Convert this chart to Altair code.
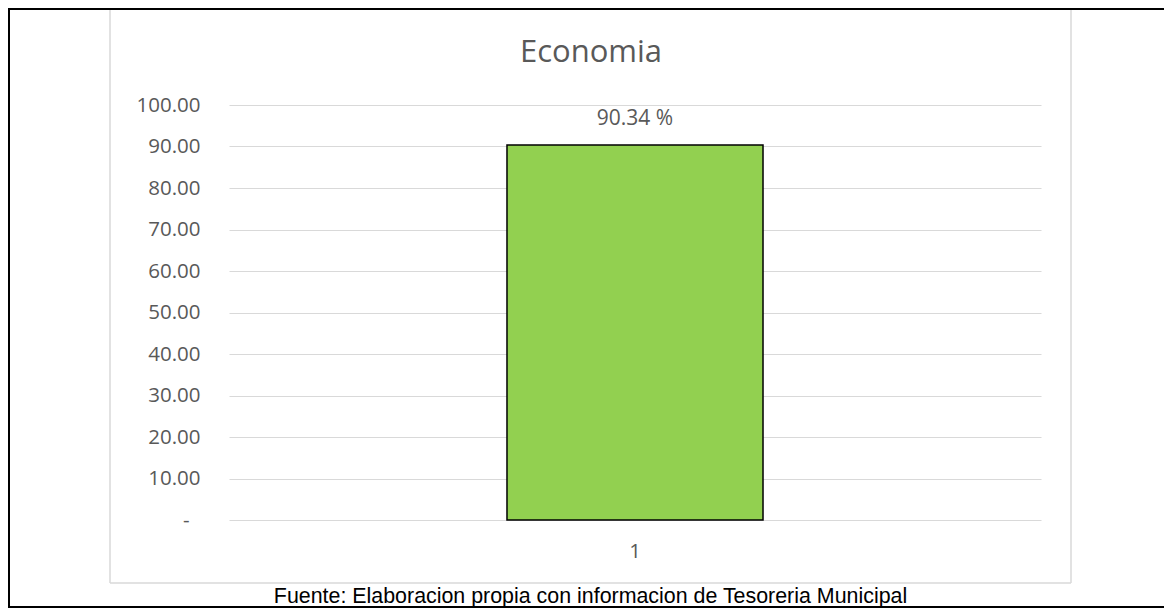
import altair as alt
import pandas as pd

# ---- data ----
categories = ["1"]
values = [90.34]
y_ticks = [0, 10, 20, 30, 40, 50, 60, 70, 80, 90, 100]
title_text = "Economia"
source_text = "Fuente: Elaboracion propia con informacion de Tesoreria Municipal"

df = pd.DataFrame({"cat": categories, "value": values})

GRAY_TEXT = "#595959"
GRID = "#D9D9D9"
FONT = "Open Sans"

base = alt.Chart(df)

x_enc = alt.X(
    "cat:N",
    scale=alt.Scale(paddingInner=0.079, paddingOuter=1),
    axis=alt.Axis(
        title=source_text,
        labelAngle=0,
        domain=False,
        ticks=False,
        tickSize=0,
        labelPadding=21,
        labelFont=FONT,
        labelFontSize=20.5,
        labelColor=GRAY_TEXT,
        titleFont="Liberation Sans",
        titleFontSize=21.4,
        titleFontWeight="normal",
        titleColor="#000000",
        titleX=361,
        titleY=82,
        titleAlign="center",
        titleBaseline="alphabetic",
    ),
)

y_enc = alt.Y(
    "value:Q",
    scale=alt.Scale(domain=[0, 100], nice=False),
    axis=alt.Axis(
        values=y_ticks,
        labelExpr="datum.value == 0 ? '-' : format(datum.value, '.2f')",
        title=None,
        domain=False,
        ticks=False,
        tickSize=0,
        labelPadding={"condition": {"test": "datum.value == 0", "value": 40}, "value": 29},
        grid=True,
        gridColor=GRID,
        gridWidth=1.2,
        labelFont=FONT,
        labelFontSize=20.5,
        labelColor=GRAY_TEXT,
    ),
)

bars = base.mark_bar(fill="#92D050", stroke="#000000", strokeWidth=1.5).encode(
    x=x_enc, y=y_enc
)

labels = base.transform_calculate(
    label="format(datum.value, '.2f') + ' %'"
).mark_text(
    baseline="bottom", dy=-16, font=FONT, fontSize=21, color=GRAY_TEXT
).encode(x=alt.X("cat:N"), y=alt.Y("value:Q"), text="label:N")

title_mark = base.mark_text(
    font=FONT, fontSize=31, color=GRAY_TEXT, align="center", baseline="alphabetic"
).encode(x=alt.value(362), y=alt.value(-43), text=alt.value(title_text))

# decorative frames (outer black frame, inner light chart-area border)
frame_top = base.mark_rule(color="#000000", strokeWidth=2).encode(
    x=alt.value(-221), x2=alt.value(935), y=alt.value(-96)
)
frame_left = base.mark_rule(color="#000000", strokeWidth=2).encode(
    x=alt.value(-220), y=alt.value(-97), y2=alt.value(503)
)
frame_bottom = base.mark_rule(color="#000000", strokeWidth=2).encode(
    x=alt.value(-221), x2=alt.value(935), y=alt.value(502)
)
inner_left = base.mark_rule(color=GRID, strokeWidth=1.5).encode(
    x=alt.value(-119), y=alt.value(-95), y2=alt.value(478)
)
inner_right = base.mark_rule(color=GRID, strokeWidth=1.5).encode(
    x=alt.value(842), y=alt.value(-95), y2=alt.value(478)
)
inner_bottom = base.mark_rule(color=GRID, strokeWidth=1.5).encode(
    x=alt.value(-119), x2=alt.value(842), y=alt.value(478)
)

chart = (
    alt.layer(
        inner_left, inner_right, inner_bottom,
        bars, labels, title_mark,
        frame_top, frame_left, frame_bottom,
    )
    .properties(
        width=812,
        height=415,
        autosize=alt.AutoSizeParams(type="none"),
        padding={"left": 221, "top": 97, "right": 123, "bottom": 89},
        background="#ffffff",
    )
    .configure_view(stroke=None)
)

chart.save("out.html", embed_options={"renderer": "svg", "actions": False})
